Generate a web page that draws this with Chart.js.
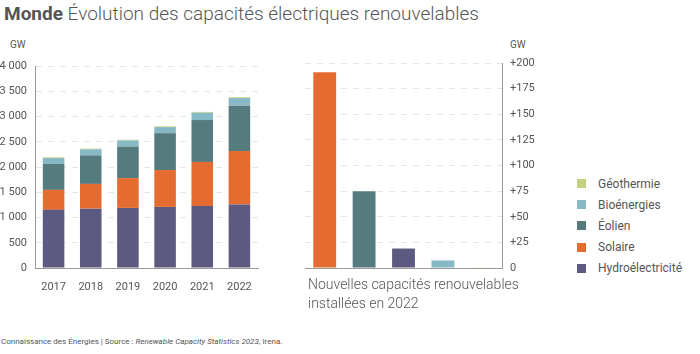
<!DOCTYPE html>
<html lang="fr">
<head>
<meta charset="utf-8">
<script src="https://cdn.jsdelivr.net/npm/chart.js@4"></script>
<style>
  html, body { margin: 0; padding: 0; background: #fff; }
  body { width: 700px; height: 354px; position: relative; overflow: hidden; font-family: Roboto, "Noto Sans", sans-serif; color: #555; }
  .abs { position: absolute; white-space: nowrap; }
  #title { left: 4px; top: 2px; font-size: 19px; font-weight: 300; color: #555; }
  #title b { font-weight: 700; }
  .unit { font-size: 10px; color: #555; }
  #caption { left: 308px; top: 275px; font-size: 14px; font-weight: 300; line-height: 18.5px; color: #555; }
  #legend { left: 577px; top: 173px; font-size: 12px; }
  #legend div { height: 21.2px; display: flex; align-items: center; }
  #legend span.sw { width: 9px; height: 9px; margin-right: 12px; display: inline-block; }
  #footer { left: 1px; top: 337px; font-size: 8px; color: #555; }
</style>
</head>
<body>
<div id="title" class="abs"><b>Monde</b> Évolution des capacités électriques renouvelables</div>
<div class="abs unit" style="left:10px;top:39px;">GW</div>
<div class="abs unit" style="left:510px;top:39px;">GW</div>
<canvas id="stackChart" class="abs" style="left:0;top:0;"></canvas>
<canvas id="newChart" class="abs" style="left:300px;top:0;"></canvas>
<div id="caption" class="abs">Nouvelles capacités renouvelables<br>installées en 2022</div>
<div id="legend" class="abs"></div>
<div id="footer" class="abs">Connaissance des Énergies | Source : <i>Renewable Capacity Statistics 2023</i>, Irena.</div>
<script>
// Data (GW)
const years = ['2017', '2018', '2019', '2020', '2021', '2022'];
const hydro = [1152, 1175, 1190, 1210, 1230, 1255];
const solar = [395, 490, 590, 730, 870, 1060];
const wind = [515, 565, 625, 730, 830, 900];
const bio = [115, 120, 120, 120, 145, 150];
const geo = [14, 14, 14, 15, 16, 16];

const newLabels = ['Solaire', 'Éolien', 'Hydroélectricité', 'Bioénergies', 'Géothermie'];
const newValues = [191, 75, 19, 7.4, 0.3];

const leftTicks = [0, 500, 1000, 1500, 2000, 2500, 3000, 3500, 4000];

const colors = {
  'Hydroélectricité': '#5d5a81',
  'Solaire': '#e56c30',
  'Éolien': '#567b7e',
  'Bioénergies': '#87b8c5',
  'Géothermie': '#c3d07d'
};

const tickFont = { family: 'Roboto', size: 11 };
const gridStyle = { color: '#e6e6e6', drawTicks: false };
const axisBorder = { color: '#999', dash: [6, 6] };

document.addEventListener('DOMContentLoaded', function() {
  Chart.defaults.font.family = 'Roboto';
  Chart.defaults.color = '#555';

  // Stacked bars 2017-2022
  const c1 = document.getElementById('stackChart');
  c1.width = 270; c1.height = 300;
  new Chart(c1.getContext('2d'), {
    type: 'bar',
    data: {
      labels: years,
      datasets: [
        { label: 'Hydroélectricité', data: hydro },
        { label: 'Solaire', data: solar },
        { label: 'Éolien', data: wind },
        { label: 'Bioénergies', data: bio },
        { label: 'Géothermie', data: geo }
      ].map(d => Object.assign(d, { backgroundColor: colors[d.label], categoryPercentage: 0.58, barPercentage: 1 }))
    },
    options: {
      responsive: false,
      animation: false,
      layout: { padding: { top: 66, right: 12 } },
      plugins: { legend: { display: false }, tooltip: { enabled: false } },
      scales: {
        x: {
          stacked: true,
          grid: { display: false },
          border: { color: '#999' },
          ticks: { font: tickFont, padding: 5, maxRotation: 0 },
          afterFit: function(s) { s.height = 32; }
        },
        y: {
          stacked: true,
          min: 0, max: 4000,
          afterBuildTicks: function(s) { s.ticks = leftTicks.map(v => ({ value: v })); },
          grid: gridStyle,
          border: axisBorder,
          ticks: {
            font: tickFont, padding: 8,
            callback: v => v.toString().replace(/\B(?=(\d{3})+(?!\d))/g, ' ')
          },
          afterFit: function(s) { s.width = 35; }
        }
      }
    }
  });

  // New capacity 2022
  const c2 = document.getElementById('newChart');
  c2.width = 240; c2.height = 300;
  new Chart(c2.getContext('2d'), {
    type: 'bar',
    data: {
      labels: newLabels,
      datasets: [{
        data: newValues,
        backgroundColor: newLabels.map(l => colors[l]),
        categoryPercentage: 0.58,
        barPercentage: 1
      }]
    },
    options: {
      responsive: false,
      animation: false,
      layout: { padding: { top: 63, left: 5 } },
      plugins: { legend: { display: false }, tooltip: { enabled: false } },
      scales: {
        x: {
          grid: { display: false },
          border: { color: '#999' },
          ticks: { display: false },
          afterFit: function(s) { s.height = 32; }
        },
        y: {
          position: 'right',
          min: 0, max: 200,
          ticks: {
            stepSize: 25, font: tickFont, padding: 8,
            callback: v => v === 0 ? '0' : '+' + v
          },
          grid: gridStyle,
          border: axisBorder,
          afterFit: function(s) { s.width = 38; }
        }
      }
    }
  });

  // Legend
  const legend = document.getElementById('legend');
  ['Géothermie', 'Bioénergies', 'Éolien', 'Solaire', 'Hydroélectricité'].forEach(function(name) {
    const row = document.createElement('div');
    row.innerHTML = '<span class="sw" style="background:' + colors[name] + '"></span>' + name;
    legend.appendChild(row);
  });
});
</script>
</body>
</html>
